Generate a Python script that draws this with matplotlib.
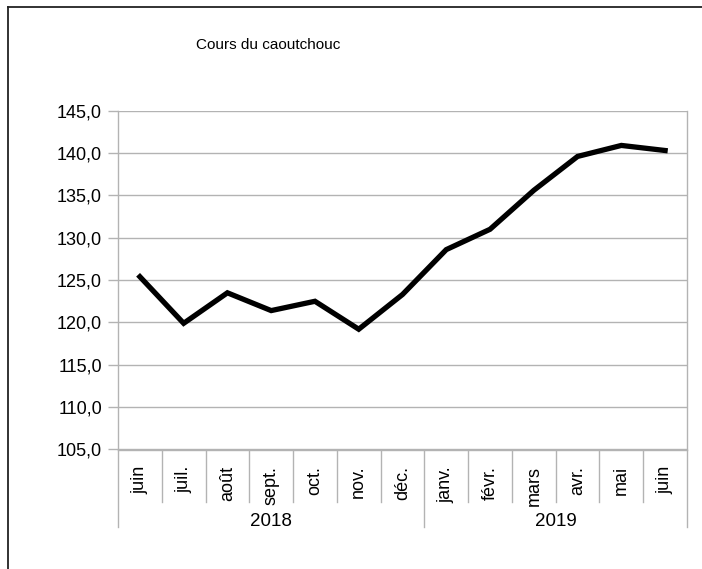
import matplotlib.pyplot as plt
import matplotlib.transforms as mtransforms
from matplotlib.lines import Line2D
from matplotlib.ticker import FuncFormatter
import numpy as np

plt.rcParams['font.family'] = ['Liberation Sans', 'DejaVu Sans']

months = ['juin', 'juil.', 'août', 'sept.', 'oct.', 'nov.', 'déc.',
          'janv.', 'févr.', 'mars', 'avr.', 'mai', 'juin']
years = ['2018', '2019']
year_counts = [7, 6]
prices = [125.4, 119.9, 123.5, 121.4, 122.5, 119.2, 123.3,
          128.6, 131.0, 135.6, 139.6, 140.9, 140.3]
yticks = [105, 110, 115, 120, 125, 130, 135, 140, 145]

W, H = 702, 569
fig = plt.figure(figsize=(W / 100, H / 100), dpi=100)
left, right, top, bottom = 118, 687, 110.7, 449.5
ax = fig.add_axes([left / W, 1 - bottom / H, (right - left) / W, (bottom - top) / H])
ax_h = bottom - top

grid_c = '#b3b3b3'
x = np.arange(len(prices)) + 0.5
ax.plot(x, prices, color='black', lw=3.8, solid_joinstyle='miter', zorder=3)

ax.set_xlim(0, len(months))
ax.set_ylim(yticks[0], yticks[-1])
ax.set_yticks(yticks)
ax.yaxis.set_major_formatter(FuncFormatter(lambda v, p: f'{v:.1f}'.replace('.', ',')))
ax.grid(axis='y', color=grid_c, lw=1)
ax.tick_params(axis='y', length=7.5, width=1, color=grid_c, labelsize=13, pad=4,
               labelcolor='black')
ax.set_xticks([])
ax.spines['top'].set_visible(False)
for s in ['left', 'right', 'bottom']:
    ax.spines[s].set_color(grid_c)
    ax.spines[s].set_linewidth(1)

# category axis: month cells and year groups
trans = mtransforms.blended_transform_factory(ax.transData, ax.transAxes)
month_len = -52 / ax_h
year_len = -77.5 / ax_h
bounds = np.cumsum([0] + year_counts)
for i in range(len(months) + 1):
    ln = year_len if i in bounds else month_len
    ax.plot([i, i], [0, ln], color=grid_c, lw=1, transform=trans, clip_on=False)
for i, m in enumerate(months):
    ax.text(i + 0.5, -16.5 / ax_h, m, rotation=90, ha='center', va='top',
            fontsize=13, transform=trans)
for j, yr in enumerate(years):
    ax.text((bounds[j] + bounds[j + 1]) / 2, -72 / ax_h, yr, ha='center', va='center',
            fontsize=13.5, transform=trans)

fig.text(268 / W, 1 - 45 / H, 'Cours du caoutchouc', ha='center', va='center', fontsize=11)

# outer chart frame (cut by image edges)
fig.add_artist(Line2D([8 / W, 1], [1 - 7 / H, 1 - 7 / H], color='#222222', lw=1.3,
                      transform=fig.transFigure))
fig.add_artist(Line2D([8 / W, 8 / W], [0, 1 - 7 / H], color='#222222', lw=1.3,
                      transform=fig.transFigure))

fig.savefig('out.png', dpi=100)
